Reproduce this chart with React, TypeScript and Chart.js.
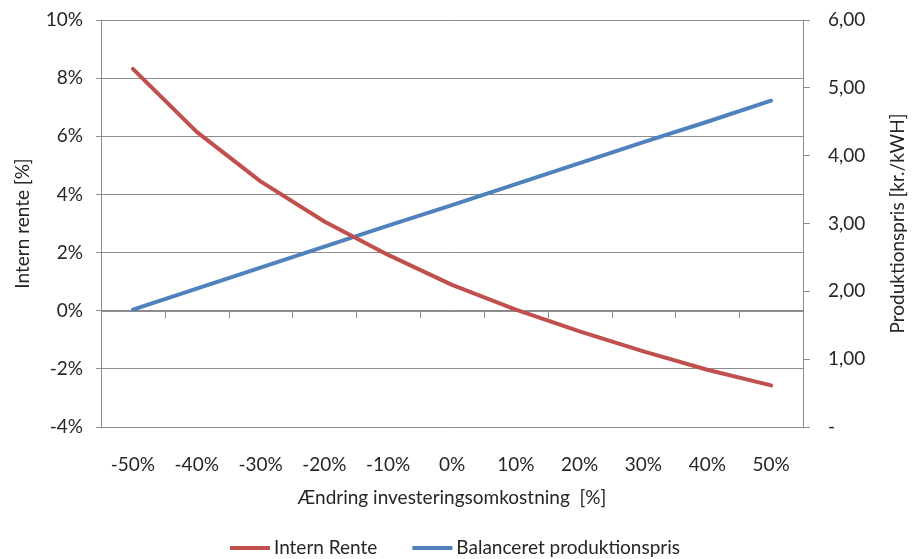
import { useEffect, useRef } from "react";
import { Chart, registerables } from "chart.js";

Chart.register(...registerables);

const categories = ["-50%", "-40%", "-30%", "-20%", "-10%", "0%", "10%", "20%", "30%", "40%", "50%"];
const internRente = [8.32, 6.15, 4.45, 3.07, 1.92, 0.89, 0.04, -0.71, -1.4, -2.03, -2.57];
const produktionspris = [1.73, 2.04, 2.35, 2.66, 2.97, 3.27, 3.58, 3.89, 4.2, 4.5, 4.81];
const leftMin = -4;
const leftMax = 10;
const leftStep = 2;
const rightMin = 0;
const rightMax = 6;
const rightStep = 1;

const seriesNames = ["Intern Rente", "Balanceret produktionspris"];
const seriesColors = ["#C0504D", "#4F81BD"];
const xTitle = "Ændring investeringsomkostning  [%]";
const leftTitle = "Intern rente [%]";
const rightTitle = "Produktionspris [kr./kWH]";

const FONT = "Lato, 'Open Sans', sans-serif";
const FS = 19;
const TEXT = "#262626";
const GRID = "#8c8c8c";

export default function App() {
  const ref = useRef<HTMLCanvasElement | null>(null);

  useEffect(() => {
    if (!ref.current) return;

    const extras = {
      id: "extras",
      beforeDatasetsDraw(chart: any) {
        const { ctx, chartArea } = chart;
        const ys = chart.scales.y;
        const y0 = ys.getPixelForValue(0);
        const n = categories.length;
        ctx.save();
        ctx.strokeStyle = GRID;
        ctx.lineWidth = 1;
        ctx.beginPath();
        ctx.moveTo(chartArea.left, Math.round(y0) + 0.5);
        ctx.lineTo(chartArea.right, Math.round(y0) + 0.5);
        for (let i = 1; i < n; i++) {
          const x = Math.round(chartArea.left + (i * (chartArea.right - chartArea.left)) / n) + 0.5;
          ctx.moveTo(x, Math.round(y0));
          ctx.lineTo(x, Math.round(y0) + 7);
        }
        ctx.stroke();
        ctx.restore();
      },
      afterDraw(chart: any) {
        const { ctx, chartArea } = chart;
        ctx.save();
        ctx.font = `${FS}px ${FONT}`;
        ctx.fillStyle = TEXT;
        // right axis title
        ctx.save();
        ctx.translate(898, (chartArea.top + chartArea.bottom) / 2);
        ctx.rotate(-Math.PI / 2);
        ctx.textAlign = "center";
        ctx.textBaseline = "middle";
        ctx.fillText(rightTitle, 0, 0);
        ctx.restore();
        // legend
        const lineW = 40;
        const gap = 4;
        const spacing = 35;
        const w0 = ctx.measureText(seriesNames[0]).width;
        const w1 = ctx.measureText(seriesNames[1]).width;
        const total = lineW + gap + w0 + spacing + lineW + gap + w1;
        let x = 455 - total / 2;
        const ly = 548;
        ctx.textBaseline = "middle";
        ctx.textAlign = "left";
        const widths = [w0, w1];
        for (let i = 0; i < 2; i++) {
          ctx.strokeStyle = seriesColors[i];
          ctx.lineWidth = 4;
          ctx.lineCap = "butt";
          ctx.beginPath();
          ctx.moveTo(x, ly);
          ctx.lineTo(x + lineW, ly);
          ctx.stroke();
          x += lineW + gap;
          ctx.fillStyle = TEXT;
          ctx.fillText(seriesNames[i], x, ly);
          x += widths[i] + spacing;
        }
        ctx.restore();
      },
    };

    const fixPad = (s: any, width: number) => {
      s.width = width;
      s.paddingTop = 0;
      s.paddingBottom = 0;
    };

    const chart = new Chart(ref.current, {
      type: "line",
      data: {
        labels: categories,
        datasets: [
          {
            label: seriesNames[0],
            data: internRente,
            borderColor: seriesColors[0],
            backgroundColor: seriesColors[0],
            borderWidth: 4,
            pointRadius: 0,
            tension: 0,
            borderJoinStyle: "round",
            borderCapStyle: "round",
            yAxisID: "y",
          },
          {
            label: seriesNames[1],
            data: produktionspris,
            borderColor: seriesColors[1],
            backgroundColor: seriesColors[1],
            borderWidth: 4,
            pointRadius: 0,
            tension: 0,
            borderJoinStyle: "round",
            borderCapStyle: "round",
            yAxisID: "y1",
          },
        ],
      },
      options: {
        responsive: false,
        animation: false,
        devicePixelRatio: 1,
        layout: { padding: { top: 20, left: 0, right: 0, bottom: 0 } },
        plugins: {
          legend: { display: false },
          tooltip: { enabled: false },
        },
        scales: {
          x: {
            type: "category",
            offset: true,
            grid: { display: false, drawTicks: false },
            border: { display: false },
            ticks: {
              font: { family: FONT, size: FS },
              color: TEXT,
              padding: 26,
              maxRotation: 0,
              autoSkip: false,
            },
            title: {
              display: true,
              text: xTitle,
              font: { family: FONT, size: FS },
              color: TEXT,
              padding: { top: 0, bottom: 50 },
            },
            afterFit: (s: any) => {
              s.height = 132;
              s.paddingLeft = 0;
              s.paddingRight = 0;
            },
          },
          y: {
            position: "left",
            min: leftMin,
            max: leftMax,
            ticks: {
              stepSize: leftStep,
              callback: (v: any) => `${v}%`,
              font: { family: FONT, size: FS },
              color: TEXT,
              padding: 13,
            },
            grid: { color: GRID, tickLength: 5, drawTicks: true },
            border: { display: true, color: GRID },
            title: {
              display: true,
              text: leftTitle,
              font: { family: FONT, size: FS },
              color: TEXT,
              padding: { top: 11, bottom: 0 },
            },
            afterFit: (s: any) => fixPad(s, 101),
          },
          y1: {
            position: "right",
            min: rightMin,
            max: rightMax,
            ticks: {
              stepSize: rightStep,
              callback: (v: any) => (v === 0 ? "-" : Number(v).toFixed(2).replace(".", ",")),
              font: { family: FONT, size: FS },
              color: TEXT,
              padding: 18,
            },
            grid: { drawOnChartArea: false, color: GRID, tickLength: 7, drawTicks: true },
            border: { display: true, color: GRID },
            afterFit: (s: any) => fixPad(s, 117),
          },
        },
      },
      plugins: [extras],
    } as any);

    return () => chart.destroy();
  }, []);

  return (
    <div style={{ position: "absolute", left: 0, top: 0, width: 920, height: 559, background: "#fff" }}>
      <canvas ref={ref} width={920} height={559} style={{ display: "block" }} />
    </div>
  );
}
